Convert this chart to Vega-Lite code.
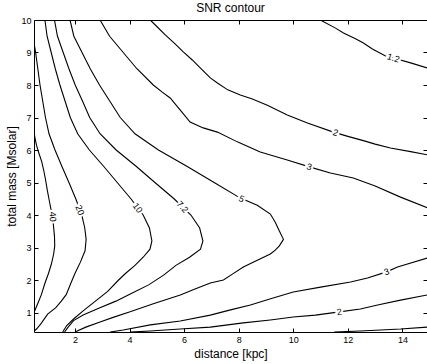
{
"$schema": "https://vega.github.io/schema/vega-lite/v6.json",
"width": 393, "height": 312,
"autosize": {"type": "none"},
"padding": {"left": 34, "top": 20, "right": 0, "bottom": 32},
"background": "white",
"config": {
  "view": {"stroke": null},
  "font": "Liberation Sans",
  "axis": {"grid": false, "tickSize": -4, "tickWidth": 1, "domainWidth": 1, "domainColor": "black", "tickColor": "black", "labelColor": "black", "titleColor": "black", "labelFont": "Liberation Sans", "titleFont": "Liberation Sans", "labelFontSize": 9, "titleFontSize": 12, "titleFontWeight": "normal"}
},
"title": {"text": "SNR contour", "font": "Liberation Sans", "fontSize": 12, "fontWeight": "normal", "color": "black", "offset": 1},
"datasets": {
"contours": [
{"s":"40","i":1,"d":0.5,"m":6.6},{"s":"40","i":2,"d":0.53,"m":6.4},{"s":"40","i":3,"d":0.59,"m":6.15},{"s":"40","i":4,"d":0.68,"m":5.9},{"s":"40","i":5,"d":0.78,"m":5.65},{"s":"40","i":6,"d":0.85,"m":5.4},{"s":"40","i":7,"d":0.92,"m":5.1},{"s":"40","i":8,"d":0.99,"m":4.75},{"s":"40","i":9,"d":1.07,"m":4.4},{"s":"40","i":10,"d":1.15,"m":4.05},{"s":"40","i":11,"d":1.21,"m":3.7},{"s":"40","i":12,"d":1.25,"m":3.35},{"s":"40","i":13,"d":1.26,"m":3.05},{"s":"40","i":14,"d":1.22,"m":2.8},{"s":"40","i":15,"d":1.14,"m":2.5},{"s":"40","i":16,"d":1.03,"m":2.2},{"s":"40","i":17,"d":0.9,"m":1.9},{"s":"40","i":18,"d":0.77,"m":1.55},{"s":"40","i":19,"d":0.65,"m":1.3},{"s":"40","i":20,"d":0.55,"m":1.1},{"s":"40","i":21,"d":0.5,"m":1.0},
{"s":"20","i":1,"d":0.5,"m":9.3},{"s":"20","i":2,"d":0.56,"m":9.0},{"s":"20","i":3,"d":0.64,"m":8.5},{"s":"20","i":4,"d":0.72,"m":8.0},{"s":"20","i":5,"d":0.82,"m":7.5},{"s":"20","i":6,"d":0.92,"m":7.0},{"s":"20","i":7,"d":1.05,"m":6.5},{"s":"20","i":8,"d":1.27,"m":6.0},{"s":"20","i":9,"d":1.52,"m":5.5},{"s":"20","i":10,"d":1.78,"m":5.0},{"s":"20","i":11,"d":2.03,"m":4.5},{"s":"20","i":12,"d":2.25,"m":4.0},{"s":"20","i":13,"d":2.36,"m":3.6},{"s":"20","i":14,"d":2.41,"m":3.25},{"s":"20","i":15,"d":2.37,"m":2.9},{"s":"20","i":16,"d":2.2,"m":2.55},{"s":"20","i":17,"d":2.0,"m":2.2},{"s":"20","i":18,"d":1.85,"m":1.9},{"s":"20","i":19,"d":1.68,"m":1.55},{"s":"20","i":20,"d":1.5,"m":1.35},{"s":"20","i":21,"d":1.3,"m":1.15},{"s":"20","i":22,"d":1.0,"m":0.95},{"s":"20","i":23,"d":0.75,"m":0.65},{"s":"20","i":24,"d":0.6,"m":0.5},{"s":"20","i":25,"d":0.5,"m":0.42},
{"s":"10","i":1,"d":0.9,"m":10},{"s":"10","i":2,"d":0.98,"m":9.5},{"s":"10","i":3,"d":1.13,"m":9.0},{"s":"10","i":4,"d":1.28,"m":8.5},{"s":"10","i":5,"d":1.45,"m":8.0},{"s":"10","i":6,"d":1.64,"m":7.5},{"s":"10","i":7,"d":1.83,"m":7.0},{"s":"10","i":8,"d":2.1,"m":6.5},{"s":"10","i":9,"d":2.53,"m":6.0},{"s":"10","i":10,"d":3.05,"m":5.5},{"s":"10","i":11,"d":3.55,"m":5.0},{"s":"10","i":12,"d":4.05,"m":4.5},{"s":"10","i":13,"d":4.5,"m":4.0},{"s":"10","i":14,"d":4.73,"m":3.6},{"s":"10","i":15,"d":4.82,"m":3.2},{"s":"10","i":16,"d":4.75,"m":2.95},{"s":"10","i":17,"d":4.5,"m":2.7},{"s":"10","i":18,"d":4.2,"m":2.45},{"s":"10","i":19,"d":3.85,"m":2.2},{"s":"10","i":20,"d":3.6,"m":2.0},{"s":"10","i":21,"d":3.2,"m":1.65},{"s":"10","i":22,"d":2.75,"m":1.35},{"s":"10","i":23,"d":2.3,"m":1.05},{"s":"10","i":24,"d":1.95,"m":0.8},{"s":"10","i":25,"d":1.7,"m":0.6},{"s":"10","i":26,"d":1.55,"m":0.4},
{"s":"7.2","i":1,"d":1.25,"m":10},{"s":"7.2","i":2,"d":1.36,"m":9.5},{"s":"7.2","i":3,"d":1.57,"m":9.0},{"s":"7.2","i":4,"d":1.78,"m":8.5},{"s":"7.2","i":5,"d":2.01,"m":8.0},{"s":"7.2","i":6,"d":2.28,"m":7.5},{"s":"7.2","i":7,"d":2.54,"m":7.0},{"s":"7.2","i":8,"d":2.92,"m":6.5},{"s":"7.2","i":9,"d":3.51,"m":6.0},{"s":"7.2","i":10,"d":4.24,"m":5.5},{"s":"7.2","i":11,"d":4.93,"m":5.0},{"s":"7.2","i":12,"d":5.63,"m":4.5},{"s":"7.2","i":13,"d":6.25,"m":4.0},{"s":"7.2","i":14,"d":6.57,"m":3.6},{"s":"7.2","i":15,"d":6.69,"m":3.2},{"s":"7.2","i":16,"d":6.6,"m":2.95},{"s":"7.2","i":17,"d":6.2,"m":2.7},{"s":"7.2","i":18,"d":5.7,"m":2.45},{"s":"7.2","i":19,"d":5.25,"m":2.15},{"s":"7.2","i":20,"d":4.7,"m":1.85},{"s":"7.2","i":21,"d":4.1,"m":1.6},{"s":"7.2","i":22,"d":3.5,"m":1.35},{"s":"7.2","i":23,"d":2.85,"m":1.12},{"s":"7.2","i":24,"d":2.3,"m":0.92},{"s":"7.2","i":25,"d":1.95,"m":0.75},{"s":"7.2","i":26,"d":1.75,"m":0.55},{"s":"7.2","i":27,"d":1.62,"m":0.4},
{"s":"5","i":1,"d":1.82,"m":10},{"s":"5","i":2,"d":1.96,"m":9.5},{"s":"5","i":3,"d":2.26,"m":9.0},{"s":"5","i":4,"d":2.56,"m":8.5},{"s":"5","i":5,"d":2.9,"m":8.0},{"s":"5","i":6,"d":3.28,"m":7.5},{"s":"5","i":7,"d":3.66,"m":7.0},{"s":"5","i":8,"d":4.2,"m":6.5},{"s":"5","i":9,"d":5.06,"m":6.0},{"s":"5","i":10,"d":6.1,"m":5.5},{"s":"5","i":11,"d":7.1,"m":5.0},{"s":"5","i":12,"d":8.06,"m":4.52},{"s":"5","i":13,"d":8.68,"m":4.3},{"s":"5","i":14,"d":9.16,"m":4.03},{"s":"5","i":15,"d":9.34,"m":3.78},{"s":"5","i":16,"d":9.49,"m":3.51},{"s":"5","i":17,"d":9.64,"m":3.25},{"s":"5","i":18,"d":9.49,"m":3.05},{"s":"5","i":19,"d":9.34,"m":2.92},{"s":"5","i":20,"d":9.16,"m":2.8},{"s":"5","i":21,"d":8.72,"m":2.62},{"s":"5","i":22,"d":8.17,"m":2.4},{"s":"5","i":23,"d":7.77,"m":2.18},{"s":"5","i":24,"d":7.44,"m":2.0},{"s":"5","i":25,"d":6.96,"m":1.91},{"s":"5","i":26,"d":6.4,"m":1.72},{"s":"5","i":27,"d":5.86,"m":1.54},{"s":"5","i":28,"d":4.9,"m":1.28},{"s":"5","i":29,"d":4.02,"m":1.02},{"s":"5","i":30,"d":3.4,"m":0.85},{"s":"5","i":31,"d":2.92,"m":0.71},{"s":"5","i":32,"d":2.4,"m":0.55},{"s":"5","i":33,"d":2.0,"m":0.4},
{"s":"3a","i":1,"d":2.92,"m":10},{"s":"3a","i":2,"d":3.27,"m":9.5},{"s":"3a","i":3,"d":3.77,"m":9.0},{"s":"3a","i":4,"d":4.27,"m":8.5},{"s":"3a","i":5,"d":4.87,"m":8.0},{"s":"3a","i":6,"d":5.2,"m":7.78},{"s":"3a","i":7,"d":5.49,"m":7.6},{"s":"3a","i":8,"d":5.86,"m":7.23},{"s":"3a","i":9,"d":6.22,"m":6.86},{"s":"3a","i":10,"d":6.7,"m":6.68},{"s":"3a","i":11,"d":7.22,"m":6.55},{"s":"3a","i":12,"d":7.95,"m":6.25},{"s":"3a","i":13,"d":8.79,"m":5.94},{"s":"3a","i":14,"d":9.78,"m":5.69},{"s":"3a","i":15,"d":10.59,"m":5.48},{"s":"3a","i":16,"d":11.36,"m":5.29},{"s":"3a","i":17,"d":12.2,"m":5.14},{"s":"3a","i":18,"d":13.0,"m":4.89},{"s":"3a","i":19,"d":13.93,"m":4.55},{"s":"3a","i":20,"d":14.92,"m":4.22},{"s":"3a","i":21,"d":15.1,"m":4.16},
{"s":"3b","i":1,"d":15.1,"m":2.73},{"s":"3b","i":2,"d":14.92,"m":2.68},{"s":"3b","i":3,"d":13.82,"m":2.4},{"s":"3b","i":4,"d":13.42,"m":2.25},{"s":"3b","i":5,"d":12.72,"m":2.06},{"s":"3b","i":6,"d":12.1,"m":1.94},{"s":"3b","i":7,"d":11.0,"m":1.78},{"s":"3b","i":8,"d":10.0,"m":1.63},{"s":"3b","i":9,"d":9.2,"m":1.43},{"s":"3b","i":10,"d":8.43,"m":1.23},{"s":"3b","i":11,"d":7.7,"m":1.08},{"s":"3b","i":12,"d":6.96,"m":0.92},{"s":"3b","i":13,"d":5.86,"m":0.74},{"s":"3b","i":14,"d":4.76,"m":0.62},{"s":"3b","i":15,"d":3.77,"m":0.46},{"s":"3b","i":16,"d":3.29,"m":0.4},
{"s":"2a","i":1,"d":4.76,"m":10},{"s":"2a","i":2,"d":5.0,"m":9.8},{"s":"2a","i":3,"d":5.3,"m":9.55},{"s":"2a","i":4,"d":5.65,"m":9.28},{"s":"2a","i":5,"d":5.97,"m":9.02},{"s":"2a","i":6,"d":6.3,"m":8.77},{"s":"2a","i":7,"d":6.6,"m":8.52},{"s":"2a","i":8,"d":6.96,"m":8.22},{"s":"2a","i":9,"d":7.22,"m":8.06},{"s":"2a","i":10,"d":7.6,"m":7.85},{"s":"2a","i":11,"d":8.06,"m":7.69},{"s":"2a","i":12,"d":8.5,"m":7.57},{"s":"2a","i":13,"d":9.05,"m":7.38},{"s":"2a","i":14,"d":9.78,"m":7.08},{"s":"2a","i":15,"d":10.52,"m":6.83},{"s":"2a","i":16,"d":11.47,"m":6.55},{"s":"2a","i":17,"d":12.0,"m":6.42},{"s":"2a","i":18,"d":12.6,"m":6.28},{"s":"2a","i":19,"d":13.0,"m":6.18},{"s":"2a","i":20,"d":13.56,"m":6.06},{"s":"2a","i":21,"d":14.3,"m":5.95},{"s":"2a","i":22,"d":14.92,"m":5.85},{"s":"2a","i":23,"d":15.1,"m":5.82},
{"s":"2b","i":1,"d":15.1,"m":1.58},{"s":"2b","i":2,"d":14.92,"m":1.54},{"s":"2b","i":3,"d":13.93,"m":1.38},{"s":"2b","i":4,"d":13.09,"m":1.23},{"s":"2b","i":5,"d":12.46,"m":1.11},{"s":"2b","i":6,"d":11.69,"m":1.02},{"s":"2b","i":7,"d":10.81,"m":0.92},{"s":"2b","i":8,"d":10.0,"m":0.86},{"s":"2b","i":9,"d":9.16,"m":0.77},{"s":"2b","i":10,"d":8.17,"m":0.68},{"s":"2b","i":11,"d":6.96,"m":0.55},{"s":"2b","i":12,"d":5.86,"m":0.49},{"s":"2b","i":13,"d":4.76,"m":0.43},{"s":"2b","i":14,"d":4.02,"m":0.4},
{"s":"1.2a","i":1,"d":10.99,"m":10},{"s":"1.2a","i":2,"d":11.55,"m":9.75},{"s":"1.2a","i":3,"d":11.84,"m":9.6},{"s":"1.2a","i":4,"d":12.28,"m":9.42},{"s":"1.2a","i":5,"d":12.57,"m":9.29},{"s":"1.2a","i":6,"d":12.9,"m":9.11},{"s":"1.2a","i":7,"d":13.09,"m":9.02},{"s":"1.2a","i":8,"d":13.38,"m":8.89},{"s":"1.2a","i":9,"d":13.67,"m":8.83},{"s":"1.2a","i":10,"d":14.3,"m":8.68},{"s":"1.2a","i":11,"d":14.92,"m":8.52},{"s":"1.2a","i":12,"d":15.1,"m":8.48},
{"s":"1.2b","i":1,"d":11.5,"m":0.4},{"s":"1.2b","i":2,"d":12.46,"m":0.43},{"s":"1.2b","i":3,"d":13.2,"m":0.46},{"s":"1.2b","i":4,"d":13.93,"m":0.49},{"s":"1.2b","i":5,"d":14.92,"m":0.55},{"s":"1.2b","i":6,"d":15.1,"m":0.56}
],
"labels": [
{"k":"40","t":"40","d":1.19,"m":3.95},
{"k":"20","t":"20","d":2.18,"m":4.15},
{"k":"10","t":"10","d":4.3,"m":4.22},
{"k":"7.2","t":"7.2","d":5.94,"m":4.25},
{"k":"5","t":"5","d":8.1,"m":4.5},
{"k":"3a","t":"3","d":10.59,"m":5.48},
{"k":"2a","t":"2","d":11.55,"m":6.53},
{"k":"1.2a","t":"1.2","d":13.67,"m":8.83},
{"k":"3b","t":"3","d":13.42,"m":2.25},
{"k":"2b","t":"2","d":11.69,"m":1.02}
]
},
"layer": [
{
  "data": {"name": "contours"},
  "mark": {"type": "line", "color": "black", "strokeWidth": 1.1, "clip": true},
  "encoding": {
    "x": {"field": "d", "type": "quantitative", "scale": {"domain": [0.5, 14.9], "nice": false, "zero": false},
          "axis": {"orient": "bottom", "values": [2,4,6,8,10,12,14], "title": "distance [kpc]", "labelPadding": 7, "titlePadding": 4}},
    "y": {"field": "m", "type": "quantitative", "scale": {"domain": [0.4, 10], "nice": false, "zero": false},
          "axis": {"orient": "left", "values": [1,2,3,4,5,6,7,8,9,10], "title": "total mass [Msolar]", "labelPadding": 7, "titlePadding": 2}},
    "detail": {"field": "s", "type": "nominal"},
    "order": {"field": "i", "type": "quantitative"}
  }
},
{
  "data": {"name": "labels"},
  "mark": {"type": "text", "fontSize": 9, "font": "Liberation Sans", "fill": "white", "stroke": "white", "strokeWidth": 4, "align": "center", "baseline": "middle"},
  "encoding": {
    "x": {"field": "d", "type": "quantitative", "axis": null},
    "y": {"field": "m", "type": "quantitative", "axis": null},
    "text": {"field": "t"},
    "angle": {"field": "k", "type": "nominal", "legend": null, "scale": {"type": "ordinal", "domain": ["40","20","10","7.2","5","3a","2a","1.2a","3b","2b"], "range": [85,69,53,48,25,17,18,17,-20,-8]}}
  }
},
{
  "data": {"name": "labels"},
  "mark": {"type": "text", "fontSize": 9, "font": "Liberation Sans", "fill": "black", "align": "center", "baseline": "middle"},
  "encoding": {
    "x": {"field": "d", "type": "quantitative", "axis": null},
    "y": {"field": "m", "type": "quantitative", "axis": null},
    "text": {"field": "t"},
    "angle": {"field": "k", "type": "nominal", "legend": null, "scale": {"type": "ordinal", "domain": ["40","20","10","7.2","5","3a","2a","1.2a","3b","2b"], "range": [85,69,53,48,25,17,18,17,-20,-8]}}
  }
},
{
  "data": {"name": "labels"},
  "mark": {"type": "point", "opacity": 0},
  "encoding": {
    "x": {"field": "d", "type": "quantitative", "axis": {"orient": "top", "values": [2,4,6,8,10,12,14], "labels": false, "title": null}},
    "y": {"field": "m", "type": "quantitative", "axis": {"orient": "right", "values": [1,2,3,4,5,6,7,8,9,10], "labels": false, "title": null, "domain": false}}
  }
}
],
"resolve": {"axis": {"x": "independent", "y": "independent"}}
}
